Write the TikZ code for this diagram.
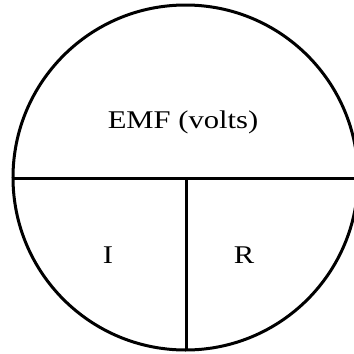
\documentclass[tikz,border=0pt]{standalone}
\usepackage{fontspec}
\setmainfont[FakeStretch=1.2]{Liberation Serif}
\begin{document}
\begin{tikzpicture}[x=1pt,y=-1pt,
  outline/.style={line width=3pt,draw=black},
  lbl/.style={font=\fontsize{25.5}{30}\selectfont,inner sep=0pt,anchor=base}]
\useasboundingbox (0,0) rectangle (354,354);
\coordinate (c) at (185.5,177.5);
\draw[outline] (c) circle[radius=172.5];
\coordinate (hl) at (13,178.5);
\coordinate (hr) at (358,178.5);
\coordinate (vt) at (186,178.5);
\coordinate (vb) at (186,350);
\draw[outline] (hl) -- (hr);
\draw[outline] (vt) -- (vb);
\node[lbl] (emf) at (183,128.5) {EMF (volts)};
\node[lbl] (i) at (108,263) {I};
\node[lbl] (r) at (244,263) {R};
\end{tikzpicture}
\end{document}
